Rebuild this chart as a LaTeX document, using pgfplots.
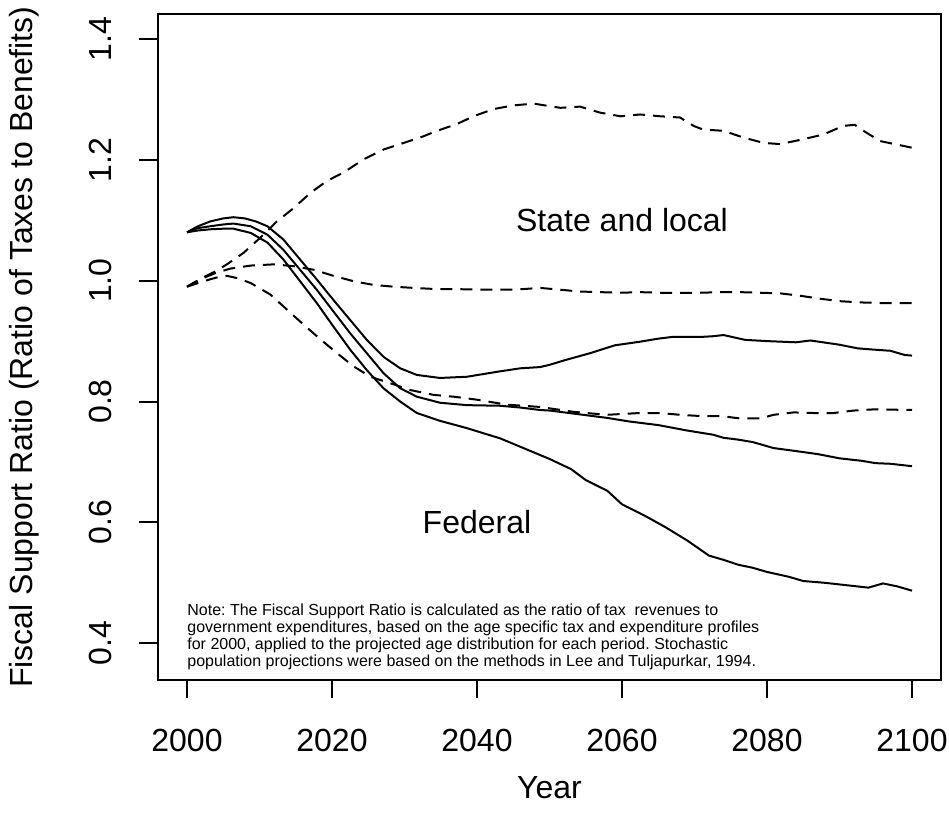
\documentclass[border=0pt]{standalone}
\usepackage{pgfplots}
\pgfplotsset{compat=1.18}
\usepackage{pgfplotstable}
\usepackage{fontspec}
\setmainfont{Liberation Sans}

\pgfplotstableread{
year val
2000 1.080
2001.5 1.090
2003.2 1.098
2005 1.103
2006.4 1.105
2008 1.103
2009.5 1.098
2011.1 1.090
2013.3 1.068
2015.6 1.035
2017.9 1.002
2020.2 0.968
2022.5 0.935
2024.8 0.902
2027.1 0.874
2029.4 0.855
2031.7 0.844
2034.9 0.839
2038.6 0.841
2043.2 0.850
2046 0.855
2048.7 0.857
2050.1 0.861
2052 0.868
2055.6 0.880
2059 0.893
2062.5 0.899
2065 0.904
2067 0.907
2071 0.907
2072.5 0.908
2074 0.910
2077 0.902
2080 0.900
2084 0.898
2086 0.901
2090 0.894
2092.5 0.888
2094.6 0.886
2097 0.884
2099 0.877
2100 0.876
}\fedup

\pgfplotstableread{
year val
2000 1.080
2001.5 1.087
2003.2 1.090
2005 1.093
2006.4 1.0945
2008.8 1.090
2011.1 1.076
2013.3 1.051
2015.6 1.018
2017.9 0.985
2020.2 0.949
2022.5 0.913
2024.8 0.880
2027.1 0.847
2029.4 0.822
2031.7 0.808
2034.9 0.798
2038.6 0.794
2043.2 0.793
2046 0.790
2048.7 0.786
2050.1 0.785
2054 0.779
2057.9 0.773
2061 0.767
2065 0.761
2069 0.752
2072.6 0.745
2074 0.740
2076 0.737
2078 0.733
2080.9 0.723
2084 0.718
2087 0.713
2090 0.706
2093 0.702
2095 0.698
2097 0.697
2100 0.693
}\fedmid

\pgfplotstableread{
year val
2000 1.080
2001.5 1.083
2003.2 1.085
2005 1.086
2006.4 1.086
2008.8 1.079
2011.1 1.063
2013.3 1.035
2015.6 0.999
2017.9 0.963
2020.2 0.924
2022.5 0.886
2024.8 0.852
2027.1 0.822
2029.4 0.800
2031.7 0.781
2034.9 0.768
2038.6 0.756
2043.2 0.739
2046.4 0.723
2050 0.705
2053 0.688
2055 0.670
2058 0.652
2060 0.630
2063 0.612
2066 0.592
2069 0.570
2072 0.545
2074 0.538
2076 0.530
2078 0.525
2080 0.518
2083 0.510
2085 0.503
2088 0.500
2091 0.496
2094 0.492
2096 0.499
2098 0.494
2100 0.487
}\fedlow

\pgfplotstableread{
year val
2000 0.990
2002 1.004
2004 1.016
2005.5 1.027
2007.8 1.046
2010.1 1.071
2012.4 1.098
2014.7 1.120
2017.0 1.145
2019.3 1.165
2021.6 1.179
2024.4 1.201
2027.1 1.217
2029.9 1.228
2032.2 1.237
2034.5 1.248
2037.2 1.259
2039.5 1.272
2042.3 1.284
2045.0 1.290
2047.8 1.293
2051.5 1.286
2054.2 1.288
2057.0 1.278
2059.8 1.272
2062.5 1.275
2065.3 1.272
2068.0 1.270
2069.9 1.256
2071.2 1.250
2074.0 1.248
2076.7 1.237
2079.5 1.228
2081.8 1.226
2085.0 1.234
2087.8 1.242
2090.5 1.256
2092.1 1.258
2093.3 1.248
2095.6 1.231
2098.8 1.223
2100 1.220
}\stup

\pgfplotstableread{
year val
2000 0.990
2002 1.003
2004 1.013
2006 1.020
2008.8 1.025
2012.0 1.027
2014.7 1.024
2017.5 1.018
2020.2 1.008
2023.0 0.999
2025.7 0.993
2028.5 0.990
2031.3 0.988
2034.5 0.986
2037.2 0.986
2041 0.985
2045 0.985
2048.7 0.988
2051.5 0.985
2054.2 0.982
2057.0 0.981
2059.8 0.980
2062.5 0.981
2065.3 0.980
2068.0 0.980
2070.8 0.980
2073.6 0.981
2076.3 0.981
2079.1 0.980
2081.8 0.979
2084.6 0.975
2087.4 0.970
2090.1 0.966
2092.9 0.964
2095.7 0.963
2100 0.963
}\stmid

\pgfplotstableread{
year val
2000 0.990
2002 0.998
2004 1.005
2005.5 1.008
2007 1.004
2008.8 0.996
2011.5 0.977
2013.8 0.952
2016.1 0.927
2018.4 0.903
2020.7 0.880
2023.0 0.858
2025.3 0.841
2028.1 0.830
2030.8 0.819
2034.0 0.811
2036.8 0.808
2040 0.803
2044 0.795
2048.7 0.791
2053.3 0.783
2057.9 0.778
2062.5 0.781
2065.3 0.781
2068.0 0.778
2070.8 0.776
2073.6 0.776
2076.3 0.772
2079.1 0.772
2080.9 0.778
2083.7 0.782
2086.4 0.781
2089.2 0.781
2091.9 0.785
2094.7 0.787
2100 0.786
}\stlow

\begin{document}
\frenchspacing
\begin{tikzpicture}
\path[use as bounding box] (0,0) rectangle (474.5pt,414pt);
\begin{axis}[
  at={(79pt,74pt)}, anchor=south west,
  scale only axis, width=391.5pt, height=332.85pt,
  xmin=1996, xmax=2104, ymin=0.3392, ymax=1.4408,
  axis line style={line width=1pt},
  xtick={2000,2020,2040,2060,2080,2100},
  xticklabels={2000,2020,2040,2060,2080,2100},
  ytick={0.4,0.6,0.8,1.0,1.2,1.4},
  yticklabels={0.4,0.6,0.8,1.0,1.2,1.4},
  xtick pos=bottom, ytick pos=left,
  tick align=outside, major tick length=9.25pt,
  tick style={line width=1pt, black},
  tick label style={font=\fontsize{16}{19.2}\selectfont},
  xticklabel style={anchor=center, yshift=-20.75pt},
  yticklabel style={xshift=-19.75pt, rotate=90, anchor=center},
  xlabel={Year},
  ylabel={Fiscal Support Ratio (Ratio of Taxes to Benefits)},
  label style={font=\fontsize{16}{19.2}\selectfont},
  xlabel style={at={(axis description cs:0.5,-0.1622)}, anchor=center},
  ylabel style={at={(axis description cs:-0.1711,0.5)}, anchor=center},
]
\addplot[black, line width=1pt, no markers] table[x=year,y=val] {\fedup};
\addplot[black, line width=1pt, no markers] table[x=year,y=val] {\fedmid};
\addplot[black, line width=1pt, no markers] table[x=year,y=val] {\fedlow};
\addplot[black, line width=1pt, no markers, dash pattern=on 6pt off 4pt] table[x=year,y=val] {\stup};
\addplot[black, line width=1pt, no markers, dash pattern=on 6pt off 4pt] table[x=year,y=val] {\stmid};
\addplot[black, line width=1pt, no markers, dash pattern=on 6pt off 4pt] table[x=year,y=val] {\stlow};
\node[font=\fontsize{16}{19.2}\selectfont] at (axis cs:2060,1.1) {State and local};
\node[font=\fontsize{16}{19.2}\selectfont] at (axis cs:2040,0.6) {Federal};
\node[anchor=west, align=left, inner sep=0pt, font=\fontsize{8}{8.5}\selectfont] at (axis cs:2000,0.41) {Note: The Fiscal Support Ratio is calculated as the ratio of tax \ revenues to\\government expenditures, based on the age specific tax and expenditure profiles\\for 2000, applied to the projected age distribution for each period. Stochastic\\population projections were based on the methods in Lee and Tuljapurkar, 1994.};
\end{axis}
\end{tikzpicture}
\end{document}
